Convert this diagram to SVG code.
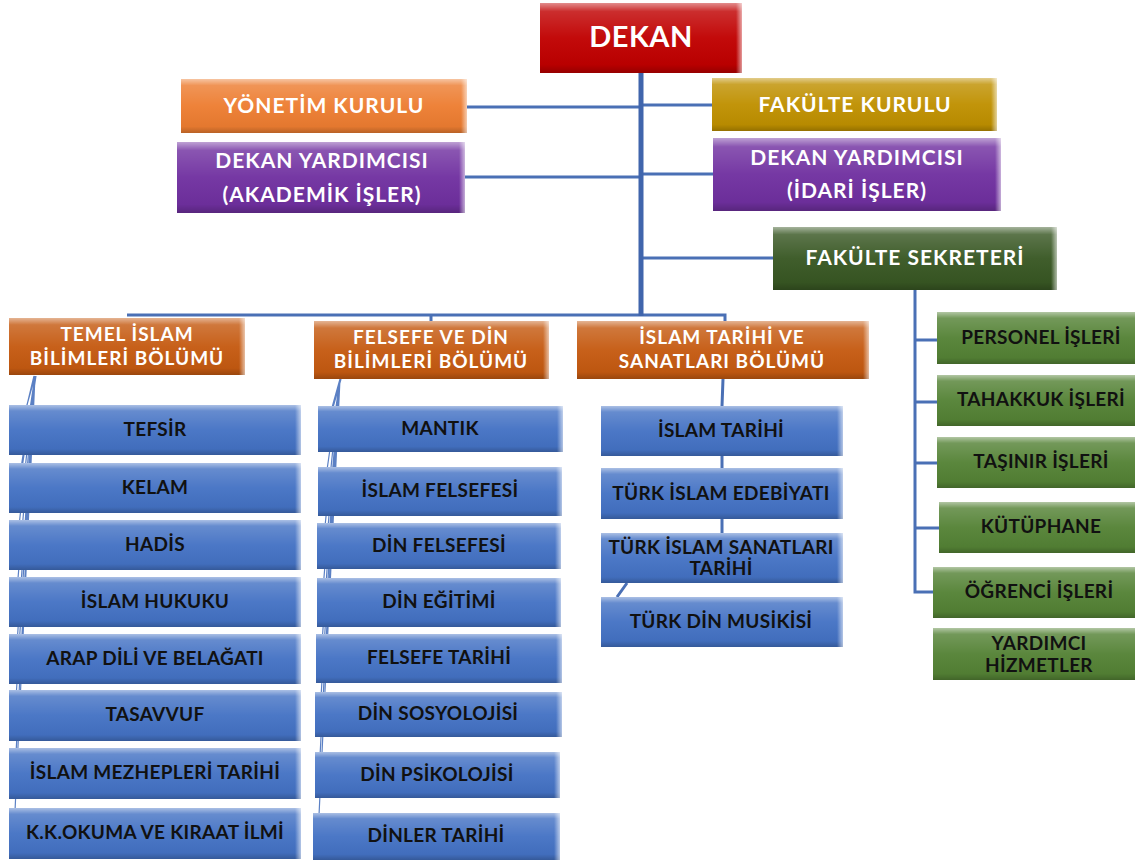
<svg xmlns="http://www.w3.org/2000/svg" width="1135" height="865" viewBox="0 0 1135 865">
<defs>
<linearGradient id="shine" x1="0" y1="0" x2="0" y2="1">
<stop offset="0" stop-color="#fff" stop-opacity="0.55"/>
<stop offset="0.12" stop-color="#fff" stop-opacity="0.18"/>
<stop offset="0.5" stop-color="#fff" stop-opacity="0.04"/>
<stop offset="0.88" stop-color="#000" stop-opacity="0.04"/>
<stop offset="1" stop-color="#000" stop-opacity="0.22"/>
</linearGradient>
<linearGradient id="edge" x1="0" y1="0" x2="1" y2="0">
<stop offset="0" stop-color="#fff" stop-opacity="0"/>
<stop offset="1" stop-color="#fff" stop-opacity="0.6"/>
</linearGradient>
</defs>
<style>
text{font-family:"Lato","Open Sans","Liberation Sans",sans-serif;font-weight:bold;text-anchor:middle}
.w{fill:#fff;font-size:21px;letter-spacing:1px}
.dp{fill:#fff;font-size:19px;letter-spacing:1px}
.d{fill:#111;font-size:19px;letter-spacing:0.3px}
.red{fill:#C00000}
.org{fill:#ED7D31}
.gold{fill:#BF9000}
.pur{fill:#7030A0}
.dgr{fill:#385723}
.dep{fill:#C55A11}
.blu{fill:#4472C4}
.grn{fill:#548235}
.sh{fill:url(#shine)}
.ed{fill:url(#edge)}
.ln{stroke:#4A70B5;stroke-width:3;fill:none}
.tr{stroke:#4065AC;stroke-width:5;fill:none}
.fan{stroke:#5B80C4;stroke-width:1.2;fill:none}
</style>
<rect width="1135" height="865" fill="#fff"/>
<g id="connectors">
<path class="ln" d="M467 107H641M641 105H712M465 177H641M641 174H713M641 258H773"/>
<path class="ln" d="M127 315H725V321"/>
<path class="ln" d="M431 315V321"/>
<path class="tr" d="M641 73V316"/>
<path class="ln" d="M915 290V592H933M915 340H937M915 402H937M915 463H937M915 528H939"/>
<path class="fan" d="M35 376L20 430M35 376L18 488M35 376L17 545M35 376L16 602M35 376L16 659M35 376L15 716M35 376L15 774M35 376L14 833M34 376L21 430M36 376L19 488"/>
<path class="fan" d="M340 379L326 429M340 379L324 491M340 379L323 546M340 379L322 602M340 379L321 658M340 379L320 714M340 379L319 775M340 379L318 836M341 379L327 429"/>
<path class="ln" d="M723 379L722 406M722 456V468M722 519V533M627 583L617 597"/>
</g>
<g id="n-dekan"><rect class="red" x="540" y="3" width="202" height="70"/><rect class="sh" x="540" y="3" width="202" height="70"/><rect class="ed" x="736" y="3" width="6" height="70"/><text class="w" x="641" y="47" style="font-size:29px;letter-spacing:0.5px">DEKAN</text></g>
<g id="n-yonetim"><rect class="org" x="181" y="79" width="286" height="54"/><rect class="sh" x="181" y="79" width="286" height="54"/><rect class="ed" x="461" y="79" width="6" height="54"/><text class="w" x="324" y="113">YÖNETİM KURULU</text></g>
<g id="n-fakulte-kurulu"><rect class="gold" x="712" y="78" width="285" height="53"/><rect class="sh" x="712" y="78" width="285" height="53"/><rect class="ed" x="991" y="78" width="6" height="53"/><text class="w" x="855" y="112">FAKÜLTE KURULU</text></g>
<g id="n-dy-akademik"><rect class="pur" x="177" y="142" width="288" height="71"/><rect class="sh" x="177" y="142" width="288" height="71"/><rect class="ed" x="459" y="142" width="6" height="71"/><text class="w" x="322" y="168">DEKAN YARDIMCISI</text><text class="w" x="322" y="202">(AKADEMİK İŞLER)</text></g>
<g id="n-dy-idari"><rect class="pur" x="713" y="138" width="288" height="73"/><rect class="sh" x="713" y="138" width="288" height="73"/><rect class="ed" x="995" y="138" width="6" height="73"/><text class="w" x="857" y="165">DEKAN YARDIMCISI</text><text class="w" x="857" y="198">(İDARİ İŞLER)</text></g>
<g id="n-sekreter"><rect class="dgr" x="773" y="227" width="284" height="63"/><rect class="sh" x="773" y="227" width="284" height="63"/><rect class="ed" x="1051" y="227" width="6" height="63"/><text class="w" x="915" y="265">FAKÜLTE SEKRETERİ</text></g>
<g id="n-temel"><rect class="dep" x="9" y="318" width="236" height="57"/><rect class="sh" x="9" y="318" width="236" height="57"/><rect class="ed" x="239" y="318" width="6" height="57"/><text class="dp" x="127" y="341">TEMEL İSLAM</text><text class="dp" x="127" y="365">BİLİMLERİ BÖLÜMÜ</text></g>
<g id="n-felsefe"><rect class="dep" x="314" y="321" width="235" height="58"/><rect class="sh" x="314" y="321" width="235" height="58"/><rect class="ed" x="543" y="321" width="6" height="58"/><text class="dp" x="431" y="344">FELSEFE VE DİN</text><text class="dp" x="431" y="368">BİLİMLERİ BÖLÜMÜ</text></g>
<g id="n-tarih"><rect class="dep" x="577" y="321" width="292" height="58"/><rect class="sh" x="577" y="321" width="292" height="58"/><rect class="ed" x="863" y="321" width="6" height="58"/><text class="dp" x="722" y="344">İSLAM TARİHİ VE</text><text class="dp" x="722" y="368">SANATLARI BÖLÜMÜ</text></g>
<g id="n-tefsir"><rect class="blu" x="9" y="405" width="292" height="50"/><rect class="sh" x="9" y="405" width="292" height="50"/><rect class="ed" x="295" y="405" width="6" height="50"/><text class="d" x="155" y="436">TEFSİR</text></g>
<g id="n-kelam"><rect class="blu" x="9" y="463" width="292" height="50"/><rect class="sh" x="9" y="463" width="292" height="50"/><rect class="ed" x="295" y="463" width="6" height="50"/><text class="d" x="155" y="494">KELAM</text></g>
<g id="n-hadis"><rect class="blu" x="9" y="520" width="292" height="50"/><rect class="sh" x="9" y="520" width="292" height="50"/><rect class="ed" x="295" y="520" width="6" height="50"/><text class="d" x="155" y="551">HADİS</text></g>
<g id="n-hukuk"><rect class="blu" x="9" y="577" width="292" height="50"/><rect class="sh" x="9" y="577" width="292" height="50"/><rect class="ed" x="295" y="577" width="6" height="50"/><text class="d" x="155" y="608">İSLAM HUKUKU</text></g>
<g id="n-arap"><rect class="blu" x="9" y="634" width="292" height="50"/><rect class="sh" x="9" y="634" width="292" height="50"/><rect class="ed" x="295" y="634" width="6" height="50"/><text class="d" x="155" y="665">ARAP DİLİ VE BELAĞATI</text></g>
<g id="n-tasavvuf"><rect class="blu" x="9" y="690" width="292" height="51"/><rect class="sh" x="9" y="690" width="292" height="51"/><rect class="ed" x="295" y="690" width="6" height="51"/><text class="d" x="155" y="721">TASAVVUF</text></g>
<g id="n-mezhep"><rect class="blu" x="9" y="748" width="292" height="51"/><rect class="sh" x="9" y="748" width="292" height="51"/><rect class="ed" x="295" y="748" width="6" height="51"/><text class="d" x="155" y="779">İSLAM MEZHEPLERİ TARİHİ</text></g>
<g id="n-kiraat"><rect class="blu" x="9" y="808" width="292" height="51"/><rect class="sh" x="9" y="808" width="292" height="51"/><rect class="ed" x="295" y="808" width="6" height="51"/><text class="d" x="155" y="839">K.K.OKUMA VE KIRAAT İLMİ</text></g>
<g id="n-mantik"><rect class="blu" x="318" y="406" width="245" height="46"/><rect class="sh" x="318" y="406" width="245" height="46"/><rect class="ed" x="557" y="406" width="6" height="46"/><text class="d" x="440" y="435">MANTIK</text></g>
<g id="n-isfelsefe"><rect class="blu" x="318" y="467" width="244" height="49"/><rect class="sh" x="318" y="467" width="244" height="49"/><rect class="ed" x="556" y="467" width="6" height="49"/><text class="d" x="440" y="497">İSLAM FELSEFESİ</text></g>
<g id="n-dinfelsefe"><rect class="blu" x="317" y="523" width="244" height="46"/><rect class="sh" x="317" y="523" width="244" height="46"/><rect class="ed" x="555" y="523" width="6" height="46"/><text class="d" x="439" y="552">DİN FELSEFESİ</text></g>
<g id="n-dinegitim"><rect class="blu" x="317" y="578" width="244" height="49"/><rect class="sh" x="317" y="578" width="244" height="49"/><rect class="ed" x="555" y="578" width="6" height="49"/><text class="d" x="439" y="608">DİN EĞİTİMİ</text></g>
<g id="n-feltarih"><rect class="blu" x="316" y="634" width="246" height="49"/><rect class="sh" x="316" y="634" width="246" height="49"/><rect class="ed" x="556" y="634" width="6" height="49"/><text class="d" x="439" y="664">FELSEFE TARİHİ</text></g>
<g id="n-sosyoloji"><rect class="blu" x="315" y="692" width="247" height="45"/><rect class="sh" x="315" y="692" width="247" height="45"/><rect class="ed" x="556" y="692" width="6" height="45"/><text class="d" x="438" y="720">DİN SOSYOLOJİSİ</text></g>
<g id="n-psikoloji"><rect class="blu" x="315" y="752" width="245" height="46"/><rect class="sh" x="315" y="752" width="245" height="46"/><rect class="ed" x="554" y="752" width="6" height="46"/><text class="d" x="437" y="781">DİN PSİKOLOJİSİ</text></g>
<g id="n-dinler"><rect class="blu" x="313" y="813" width="247" height="47"/><rect class="sh" x="313" y="813" width="247" height="47"/><rect class="ed" x="554" y="813" width="6" height="47"/><text class="d" x="436" y="842">DİNLER TARİHİ</text></g>
<g id="n-istarih"><rect class="blu" x="601" y="406" width="242" height="50"/><rect class="sh" x="601" y="406" width="242" height="50"/><rect class="ed" x="837" y="406" width="6" height="50"/><text class="d" x="721" y="437">İSLAM TARİHİ</text></g>
<g id="n-edebiyat"><rect class="blu" x="601" y="468" width="242" height="51"/><rect class="sh" x="601" y="468" width="242" height="51"/><rect class="ed" x="837" y="468" width="6" height="51"/><text class="d" x="721" y="500">TÜRK İSLAM EDEBİYATI</text></g>
<g id="n-sanat"><rect class="blu" x="601" y="533" width="242" height="50"/><rect class="sh" x="601" y="533" width="242" height="50"/><rect class="ed" x="837" y="533" width="6" height="50"/><text class="d" x="721" y="554">TÜRK İSLAM SANATLARI</text><text class="d" x="721" y="575">TARİHİ</text></g>
<g id="n-musiki"><rect class="blu" x="601" y="597" width="242" height="50"/><rect class="sh" x="601" y="597" width="242" height="50"/><rect class="ed" x="837" y="597" width="6" height="50"/><text class="d" x="721" y="628">TÜRK DİN MUSİKİSİ</text></g>
<g id="n-personel"><rect class="grn" x="937" y="312" width="198" height="52"/><rect class="sh" x="937" y="312" width="198" height="52"/><text class="d" x="1041" y="344">PERSONEL İŞLERİ</text></g>
<g id="n-tahakkuk"><rect class="grn" x="937" y="375" width="198" height="51"/><rect class="sh" x="937" y="375" width="198" height="51"/><text class="d" x="1041" y="406">TAHAKKUK İŞLERİ</text></g>
<g id="n-tasinir"><rect class="grn" x="937" y="437" width="198" height="51"/><rect class="sh" x="937" y="437" width="198" height="51"/><text class="d" x="1041" y="468">TAŞINIR İŞLERİ</text></g>
<g id="n-kutuphane"><rect class="grn" x="939" y="502" width="196" height="51"/><rect class="sh" x="939" y="502" width="196" height="51"/><text class="d" x="1041" y="533">KÜTÜPHANE</text></g>
<g id="n-ogrenci"><rect class="grn" x="933" y="567" width="202" height="51"/><rect class="sh" x="933" y="567" width="202" height="51"/><text class="d" x="1039" y="598">ÖĞRENCİ İŞLERİ</text></g>
<g id="n-yardimci"><rect class="grn" x="933" y="628" width="202" height="52"/><rect class="sh" x="933" y="628" width="202" height="52"/><text class="d" x="1039" y="650">YARDIMCI</text><text class="d" x="1039" y="672">HİZMETLER</text></g>
</svg>
